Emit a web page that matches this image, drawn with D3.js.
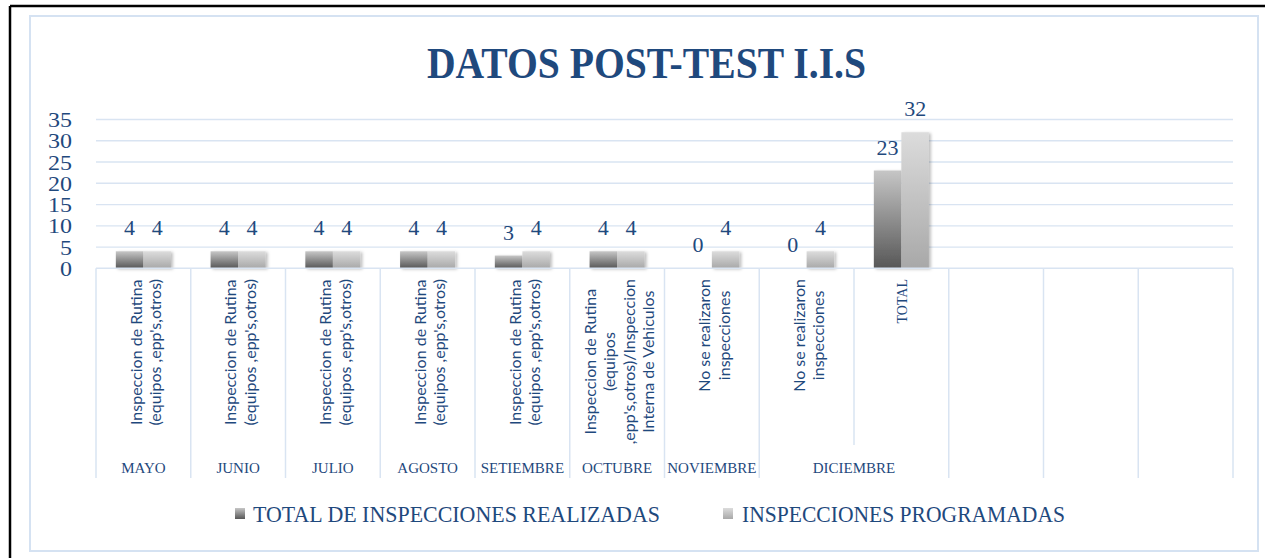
<!DOCTYPE html>
<html>
<head>
<meta charset="utf-8">
<script src="https://cdn.jsdelivr.net/npm/d3@7"></script>
<style>
  html, body { margin: 0; padding: 0; background: #ffffff; }
  svg { display: block; }
</style>
</head>
<body>
<svg id="chart" width="1265" height="558"></svg>
<script>
// ---------- DATA ----------
const chartTitle = "DATOS POST-TEST I.I.S";
const seriesNames = ["TOTAL DE INSPECCIONES REALIZADAS", "INSPECCIONES PROGRAMADAS"];
const categoryLines = [
  ["Inspeccion de Rutina", "(equipos ,epp's,otros)"],
  ["Inspeccion de Rutina", "(equipos ,epp's,otros)"],
  ["Inspeccion de Rutina", "(equipos ,epp's,otros)"],
  ["Inspeccion de Rutina", "(equipos ,epp's,otros)"],
  ["Inspeccion de Rutina", "(equipos ,epp's,otros)"],
  ["Inspeccion de Rutina", "(equipos", ",epp's,otros)/Inspeccion", "Interna de Vehiculos"],
  ["No se realizaron", "inspecciones"],
  ["No se realizaron", "inspecciones"],
  ["TOTAL"],
  [],
  [],
  []
];
const monthNames = ["MAYO", "JUNIO", "JULIO", "AGOSTO", "SETIEMBRE", "OCTUBRE", "NOVIEMBRE", "DICIEMBRE", "", "", ""];
const monthSpans = [1, 1, 1, 1, 1, 1, 1, 2, 1, 1, 1];
const realizadas  = [4, 4, 4, 4, 3, 4, 0, 0, 23];
const programadas = [4, 4, 4, 4, 4, 4, 4, 4, 32];
const yTicks = [0, 5, 10, 15, 20, 25, 30, 35];

// ---------- STYLE ----------
const blue = "#1F497D";
const gridColor = "#d9e4f2";
const serif = "'Liberation Serif', 'DejaVu Serif', serif";
const sans = "Lato, 'Liberation Sans', sans-serif";

const svg = d3.select("#chart");

// frame borders
svg.append("rect").attr("x", 30).attr("y", 16).attr("width", 1228).attr("height", 535)
  .attr("fill", "none").attr("stroke", "#d5e2f2").attr("stroke-width", 2);
svg.append("line").attr("x1", 10).attr("x2", 1265).attr("y1", 6).attr("y2", 6)
  .attr("stroke", "#000").attr("stroke-width", 2.5);
svg.append("line").attr("x1", 10).attr("x2", 10).attr("y1", 6).attr("y2", 558)
  .attr("stroke", "#000").attr("stroke-width", 2.5);

// defs: gradients + shadow
const defs = svg.append("defs");
const g0 = defs.append("linearGradient").attr("id", "gDark").attr("x1", 0).attr("y1", 0).attr("x2", 0).attr("y2", 1);
g0.append("stop").attr("offset", "0%").attr("stop-color", "#c6c6c6");
g0.append("stop").attr("offset", "100%").attr("stop-color", "#575757");
const g1 = defs.append("linearGradient").attr("id", "gLight").attr("x1", 0).attr("y1", 0).attr("x2", 0).attr("y2", 1);
g1.append("stop").attr("offset", "0%").attr("stop-color", "#dcdcdc");
g1.append("stop").attr("offset", "100%").attr("stop-color", "#a8a8a8");
const shadow = defs.append("filter").attr("id", "shadow").attr("x", "-20%").attr("y", "-20%").attr("width", "150%").attr("height", "150%");
shadow.append("feDropShadow").attr("dx", 2).attr("dy", 1).attr("stdDeviation", 1.5)
  .attr("flood-color", "#000").attr("flood-opacity", 0.25);

// ---------- SCALES ----------
const nCats = categoryLines.length;
const x0 = d3.scaleBand().domain(d3.range(nCats)).range([96, 1233]).paddingInner(0).paddingOuter(0);
const x1 = d3.scaleBand().domain([0, 1]).range([0, x0.bandwidth()]).paddingInner(0).paddingOuter(0.72);
const y = d3.scaleLinear().domain([0, 35]).range([268.3, 119.5]);

// title
svg.append("text").attr("x", 646.5).attr("y", 78)
  .attr("text-anchor", "middle").attr("font-family", serif).attr("font-weight", "bold")
  .attr("font-size", 45).attr("fill", blue)
  .attr("textLength", 439).attr("lengthAdjust", "spacingAndGlyphs")
  .text(chartTitle);

// gridlines
svg.append("g").selectAll("line").data(yTicks.filter(d => d > 0)).join("line")
  .attr("x1", 96).attr("x2", 1233)
  .attr("y1", d => y(d)).attr("y2", d => y(d))
  .attr("stroke", gridColor).attr("stroke-width", 1.3);

// y axis labels via d3 axis
const yAxis = d3.axisLeft(y).tickValues(yTicks).tickSize(0).tickPadding(0);
const yg = svg.append("g").attr("transform", "translate(72,0)").call(yAxis);
yg.select(".domain").remove();
yg.selectAll("text").attr("font-family", serif).attr("font-size", 21).attr("fill", blue)
  .attr("dy", "0.34em").attr("textLength", 24).attr("lengthAdjust", "spacingAndGlyphs");
yg.selectAll("text").filter(d => d < 10).attr("textLength", 12);

// ---------- BARS ----------
const series = [realizadas, programadas];
const fills = ["url(#gDark)", "url(#gLight)"];
const barsG = svg.append("g");
series.forEach((vals, s) => {
  barsG.append("g").selectAll("rect").data(vals).join("rect")
    .attr("x", (d, i) => x0(i) + x1(s))
    .attr("width", x1.bandwidth())
    .attr("y", d => y(d))
    .attr("height", d => y(0) - y(d))
    .attr("fill", fills[s])
    .attr("filter", "url(#shadow)");
});
// data labels
series.forEach((vals, s) => {
  svg.append("g").selectAll("text").data(vals).join("text")
    .attr("x", (d, i) => x0(i) + x1(s) + x1.bandwidth() / 2)
    .attr("y", d => y(d) - 16)
    .attr("text-anchor", "middle")
    .attr("font-family", serif).attr("font-size", 22).attr("fill", blue)
    .text(d => d);
});

// ---------- MULTI-LEVEL CATEGORY AXIS ----------
const axisG = svg.append("g");
axisG.append("line").attr("x1", 96).attr("x2", 1233).attr("y1", y(0)).attr("y2", y(0))
  .attr("stroke", gridColor).attr("stroke-width", 1.5);
const monthStarts = [];
let acc = 0;
monthSpans.forEach(s => { monthStarts.push(acc); acc += s; });
const fullBounds = monthStarts.concat([nCats]);
d3.range(nCats + 1).forEach(i => {
  const xb = i < nCats ? x0(i) : x0(nCats - 1) + x0.bandwidth();
  const full = fullBounds.includes(i);
  axisG.append("line").attr("x1", xb).attr("x2", xb)
    .attr("y1", y(0)).attr("y2", full ? 478 : 445)
    .attr("stroke", gridColor).attr("stroke-width", 1.5);
});

// category labels (rotated, multi-line, centered lines, top-anchored block)
const lineH = 19.5;
categoryLines.forEach((lines, i) => {
  if (!lines.length) return;
  const isTotal = lines.length === 1 && lines[0] === "TOTAL";
  const cx = x0(i) + x0.bandwidth() / 2 + 1.5;
  const g = axisG.append("g");
  const texts = g.selectAll("text").data(lines).join("text")
    .attr("x", 0)
    .attr("y", (d, j) => (j - (lines.length - 1) / 2) * lineH)
    .attr("text-anchor", "middle")
    .attr("dominant-baseline", "central")
    .attr("font-family", isTotal ? serif : sans)
    .attr("font-size", isTotal ? 14 : 16)
    .attr("fill", blue)
    .text(d => d);
  let maxLen = 0;
  texts.each(function() { maxLen = Math.max(maxLen, this.getComputedTextLength()); });
  g.attr("transform", `translate(${cx},${279 + maxLen / 2}) rotate(-90)`);
});

// month labels
monthNames.forEach((m, k) => {
  if (!m) return;
  const start = monthStarts[k];
  const end = start + monthSpans[k];
  const cx = (x0(start) + x0(end - 1) + x0.bandwidth()) / 2;
  axisG.append("text").attr("x", cx).attr("y", 473)
    .attr("text-anchor", "middle").attr("font-family", serif).attr("font-size", 15)
    .attr("fill", blue).text(m);
});

// ---------- LEGEND ----------
const legendItems = [
  { name: seriesNames[0], fill: "url(#gDark)", sx: 235, tx: 253, tl: 407 },
  { name: seriesNames[1], fill: "url(#gLight)", sx: 723, tx: 742, tl: 323 }
];
const lg = svg.append("g");
legendItems.forEach(it => {
  lg.append("rect").attr("x", it.sx).attr("y", 508).attr("width", 10).attr("height", 11).attr("fill", it.fill);
  lg.append("text").attr("x", it.tx).attr("y", 522)
    .attr("font-family", serif).attr("font-size", 23).attr("fill", blue)
    .attr("textLength", it.tl).attr("lengthAdjust", "spacingAndGlyphs")
    .text(it.name);
});
</script>
</body>
</html>
